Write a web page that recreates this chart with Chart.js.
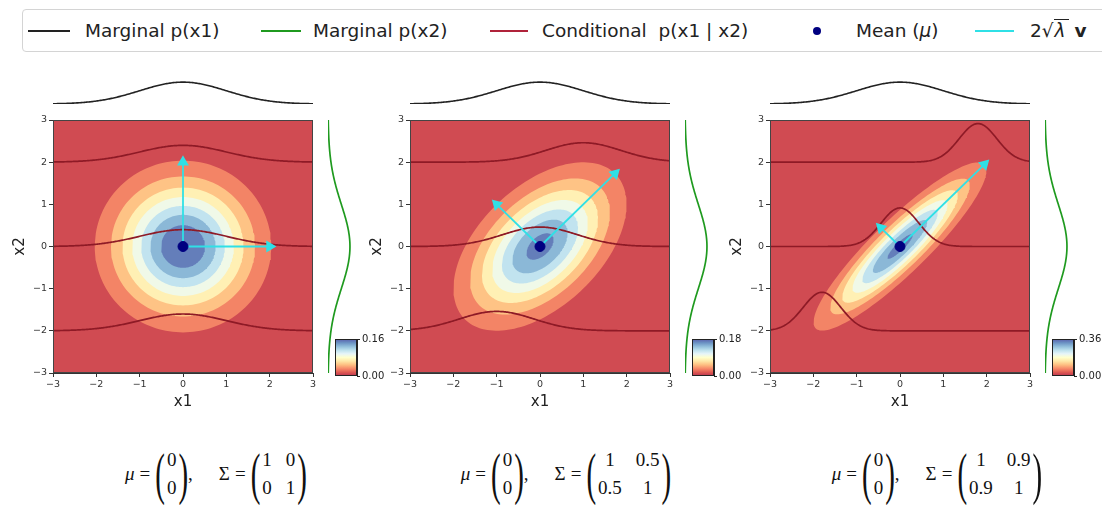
<!DOCTYPE html>
<html lang="en">
<head>
<meta charset="UTF-8">
<title>Bivariate Gaussian: marginals and conditionals</title>
<script src="https://cdn.jsdelivr.net/npm/chart.js"></script>
<style>
  html, body { margin: 0; padding: 0; background: #fff; }
  body { width: 1102px; height: 506px; position: relative; overflow: hidden; font-family: 'DejaVu Sans', sans-serif; }
  canvas { position: absolute; }
  .legend { position: absolute; left: 22px; top: 9px; width: 1100px; height: 43px; border: 1px solid #d4d4d4; border-radius: 4px; box-sizing: border-box; }
  .lg-line { position: absolute; top: 30px; height: 2px; }
  .lg-dot { position: absolute; top: 27px; width: 8px; height: 8px; border-radius: 50%; background: #000080; }
  .lg-text { position: absolute; top: 20px; font-size: 18.5px; line-height: 22px; color: #222; white-space: nowrap; }
  .sq { border-top: 1.5px solid #222; font-style: italic; padding: 0 3px 0 1px; }
  .eq { position: absolute; top: 446px; height: 56px; display: flex; align-items: center; transform: translateX(-50%);
        font-family: 'Liberation Serif', 'DejaVu Serif', serif; font-size: 19px; color: #111; white-space: nowrap; }
  .eq .it { font-style: italic; }
  .eq .op { margin: 0 5px; }
  .eq .par { display: inline-block; font-size: 29px; line-height: 29px; transform: scaleY(1.95); }
  .eq .mat { display: inline-grid; row-gap: 6px; justify-items: center; margin: 0 2px; }
  .eq .gap { width: 26px; }
</style>
</head>
<body>
<div class="legend"></div>
<div class="lg-line" style="left:28px;width:42px;background:#222"></div>
<div class="lg-text" style="left:85px">Marginal p(x1)</div>
<div class="lg-line" style="left:261px;width:40px;background:#1f9a1f"></div>
<div class="lg-text" style="left:313px">Marginal p(x2)</div>
<div class="lg-line" style="left:490px;width:38px;background:#b0233a"></div>
<div class="lg-text" style="left:542px">Conditional&nbsp; p(x1 | x2)</div>
<div class="lg-dot" style="left:813px"></div>
<div class="lg-text" style="left:856px">Mean (<i>μ</i>)</div>
<div class="lg-line" style="left:975px;width:39px;background:#2fe0e6"></div>
<div class="lg-text" style="left:1030px">2√<span class="sq">λ</span> <b>v</b></div>

<script>
// ---- values ----
const TICKS = [-3, -2, -1, 0, 1, 2, 3];
const MU1 = [0, 0, 0];
const MU2 = [0, 0, 0];
const S11 = [1, 1, 1];
const S12 = [0, 0.5, 0.9];
const S22 = [1, 1, 1];
const COND_AT = [-2, 0, 2];          // x2 values where p(x1 | x2) is drawn
const LEVELS = [
  [0, 0.02, 0.04, 0.06, 0.08, 0.10, 0.12, 0.14, 0.16],
  [0, 0.025, 0.05, 0.075, 0.10, 0.125, 0.15, 0.175, 0.20],
  [0, 0.05, 0.10, 0.15, 0.20, 0.25, 0.30, 0.35, 0.40]
];
const CBAR_TICKS = [[0, 0.16], [0, 0.18], [0, 0.36]];

// ---- layout ----
const PLOT_LEFT = [53, 410, 770];
const PLOT_TOP = 120, PLOT_W = 260, PLOT_H = 253;
const EQ_CENTER = [216, 566, 937];

const RDYLBU = ['#a50026','#d73027','#f46d43','#fdae61','#fee090','#ffffbf',
                '#e0f3f8','#abd9e9','#74add1','#4575b4','#313695'];
const COND_COLOR = '#8e1a26', ARROW_COLOR = '#2fe0e6', MEAN_COLOR = '#000080';

function hexRgb(h) { return [1, 3, 5].map(i => parseInt(h.substr(i, 2), 16)); }
function cmap(t, alpha = 0.8) {
  const s = Math.min(Math.max(t, 0), 1) * 10;
  const i = Math.min(Math.floor(s), 9), f = s - i;
  const a = hexRgb(RDYLBU[i]), b = hexRgb(RDYLBU[i + 1]);
  const c = a.map((v, k) => v + (b[k] - v) * f).map(v => Math.round(255 - (255 - v) * alpha));
  return `rgb(${c.join(',')})`;
}

function pdf(x, m, v) { return Math.exp(-(x - m) * (x - m) / (2 * v)) / Math.sqrt(2 * Math.PI * v); }

const GRID = [];
for (let i = 0; i <= 240; i++) GRID.push(-3 + i * 0.025);

function eigen(p) {
  const a = S11[p], b = S12[p], c = S22[p];
  const h = (a + c) / 2, r = Math.sqrt(((a - c) / 2) ** 2 + b * b);
  const l1 = h + r, l2 = h - r;
  let v1;
  if (Math.abs(b) < 1e-12) v1 = a >= c ? [1, 0] : [0, 1];
  else { const n = Math.hypot(l1 - c, b); v1 = [(l1 - c) / n, b / n]; }
  return { l1, l2, v1, v2: [-v1[1], v1[0]] };
}

// contour line of the density at a given level (an ellipse)
function ellipse(p, level) {
  const det = S11[p] * S22[p] - S12[p] * S12[p];
  const k = level * 2 * Math.PI * Math.sqrt(det);
  if (k >= 1) return null;
  const d = Math.sqrt(-2 * Math.log(k));
  const e = eigen(p), pts = [];
  for (let j = 0; j <= 160; j++) {
    const th = 2 * Math.PI * j / 160;
    const u = d * Math.sqrt(e.l1) * Math.cos(th), w = d * Math.sqrt(e.l2) * Math.sin(th);
    pts.push({ x: MU1[p] + u * e.v1[0] + w * e.v2[0], y: MU2[p] + u * e.v1[1] + w * e.v2[1] });
  }
  return pts;
}

const fmt = v => v < 0 ? '\u2212' + Math.abs(v) : String(v);

const frame = {
  id: 'frame',
  beforeDatasetsDraw(chart, args, opts) {
    if (!opts.fill) return;
    const { ctx, chartArea: a } = chart;
    ctx.save(); ctx.fillStyle = opts.fill; ctx.fillRect(a.left, a.top, a.width, a.height); ctx.restore();
  },
  afterDraw(chart, args, opts) {
    if (!opts.stroke) return;
    const { ctx, chartArea: a } = chart;
    ctx.save(); ctx.strokeStyle = opts.stroke; ctx.lineWidth = 1;
    ctx.strokeRect(Math.round(a.left) + 0.5, Math.round(a.top) + 0.5, Math.round(a.width) - 1, Math.round(a.height) - 1);
    ctx.restore();
  }
};

function makeCanvas(left, top, w, h) {
  const c = document.createElement('canvas');
  c.width = w; c.height = h;
  c.style.left = left + 'px'; c.style.top = top + 'px';
  c.style.width = w + 'px'; c.style.height = h + 'px';
  document.body.appendChild(c);
  return c;
}

const base = {
  responsive: false, animation: false, events: [],
  plugins: { legend: { display: false }, tooltip: { enabled: false } },
  elements: { point: { radius: 0 }, line: { tension: 0 } }
};

function axis(title, isY) {
  return {
    type: 'linear', min: -3, max: 3,
    afterBuildTicks: s => { s.ticks = TICKS.map(v => ({ value: v })); },
    afterFit: s => { if (isY) s.width = 45; else s.height = 40; },
    ticks: { font: { size: 9.5, family: 'DejaVu Sans' }, color: '#333', padding: 2, maxRotation: 0, callback: fmt },
    grid: { drawOnChartArea: false, tickLength: 4, color: '#333' },
    border: { color: '#333' },
    title: { display: true, text: title, color: '#222', font: { size: 15, family: 'DejaVu Sans' }, padding: { top: 3, bottom: 2 } }
  };
}

for (let p = 0; p < 3; p++) {
  const L = PLOT_LEFT[p];
  const levels = LEVELS[p], nb = levels.length - 1;
  const datasets = [];

  // filled contour bands
  for (let i = 1; i < levels.length; i++) {
    const pts = ellipse(p, levels[i]);
    if (!pts) continue;
    datasets.push({ data: pts, showLine: true, fill: 'shape', backgroundColor: cmap((i + 0.5) / nb),
                    borderWidth: 0, borderColor: 'transparent', order: 100 - i });
  }
  // conditional densities p(x1 | x2)
  COND_AT.forEach(x2 => {
    const m = MU1[p] + S12[p] / S22[p] * (x2 - MU2[p]);
    const v = S11[p] - S12[p] * S12[p] / S22[p];
    datasets.push({ data: GRID.map(x => ({ x, y: x2 + pdf(x, m, v) })), showLine: true,
                    borderColor: COND_COLOR, borderWidth: 1.7, order: 10 });
  });
  // eigenvector arrows 2*sqrt(lambda)*v
  const e = eigen(p);
  [[e.l1, e.v1], [e.l2, e.v2]].forEach(([lam, vec]) => {
    const dx = 2 * Math.sqrt(lam) * vec[0], dy = 2 * Math.sqrt(lam) * vec[1];
    const rot = 90 - Math.atan2(dy, dx) * 180 / Math.PI;
    datasets.push({ data: [{ x: MU1[p], y: MU2[p] }, { x: MU1[p] + dx, y: MU2[p] + dy }], showLine: true,
                    borderColor: ARROW_COLOR, borderWidth: 1.8, backgroundColor: ARROW_COLOR,
                    pointStyle: 'triangle', pointRadius: c => c.dataIndex === 1 ? 5 : 0,
                    rotation: c => c.dataIndex === 1 ? rot : 0, order: 5 });
  });
  // mean
  datasets.push({ data: [{ x: MU1[p], y: MU2[p] }], pointRadius: 5, backgroundColor: MEAN_COLOR,
                  borderColor: MEAN_COLOR, order: 1 });

  new Chart(makeCanvas(L - 45, PLOT_TOP - 10, 45 + PLOT_W + 8, 10 + PLOT_H + 40), {
    type: 'scatter',
    data: { datasets },
    options: Object.assign({}, base, {
      layout: { padding: { top: 10, right: 8, left: 0, bottom: 0 } },
      scales: { x: axis('x1', false), y: axis('x2', true) },
      plugins: Object.assign({}, base.plugins, { frame: { fill: cmap(0.5 / nb), stroke: '#444' } })
    }),
    plugins: [frame]
  });

  // top marginal p(x1)
  new Chart(makeCanvas(L, 70, PLOT_W, 34), {
    type: 'scatter',
    data: { datasets: [{ data: GRID.map(x => ({ x, y: pdf(x, MU1[p], S11[p]) })), showLine: true,
                         borderColor: '#222', borderWidth: 1.6 }] },
    options: Object.assign({}, base, {
      clip: false,
      scales: { x: { display: false, min: -3, max: 3 }, y: { display: false, min: 0, max: 0.62 } }
    })
  });

  // right marginal p(x2); a tiny tension avoids the x-rounding fast path (stair look)
  new Chart(makeCanvas(L + PLOT_W + 15, PLOT_TOP, 30, PLOT_H), {
    type: 'scatter',
    data: { datasets: [{ data: GRID.map(y => ({ x: pdf(y, MU2[p], S22[p]), y })), showLine: true,
                         borderColor: '#1f9a1f', borderWidth: 1.7, tension: 0.001 }] },
    options: Object.assign({}, base, {
      clip: false,
      scales: { x: { display: false, min: 0, max: 0.545 }, y: { display: false, min: -3, max: 3 } }
    })
  });

  // colorbar
  const tk = CBAR_TICKS[p];
  new Chart(makeCanvas(L + 282, 330, 56, 56), {
    type: 'bar',
    data: { labels: [''], datasets: [{
      data: [[tk[0], tk[1]]], borderWidth: 0, barPercentage: 1, categoryPercentage: 1,
      backgroundColor: c => {
        const a = c.chart.chartArea;
        if (!a) return cmap(0);
        const g = c.chart.ctx.createLinearGradient(0, a.bottom, 0, a.top);
        for (let i = 0; i <= 20; i++) g.addColorStop(i / 20, cmap(i / 20));
        return g;
      }
    }] },
    options: Object.assign({}, base, {
      layout: { padding: { top: 9, bottom: 10, left: 0, right: 0 } },
      scales: {
        x: { display: false },
        y: { position: 'right', min: tk[0], max: tk[1],
             afterBuildTicks: s => { s.ticks = tk.map(v => ({ value: v })); },
             afterFit: s => { s.width = 34; },
             ticks: { font: { size: 10, family: 'DejaVu Sans' }, color: '#222', padding: 2, callback: v => v.toFixed(2) },
             grid: { drawOnChartArea: false, tickLength: 3, color: '#222' },
             border: { color: '#222' } }
      },
      plugins: Object.assign({}, base.plugins, { frame: { stroke: '#222' } })
    }),
    plugins: [frame]
  });

  // parameter formula
  const par = ch => `<span class="par">${ch}</span>`;
  const mat = (cells, cols) => `<span class="mat" style="grid-template-columns:repeat(${cols}, auto);column-gap:${cols > 1 ? 14 : 0}px">` +
    cells.map(v => `<span>${v}</span>`).join('') + '</span>';
  const eq = document.createElement('div');
  eq.className = 'eq';
  eq.style.left = EQ_CENTER[p] + 'px';
  eq.innerHTML = `<span class="it">μ</span><span class="op">=</span>${par('(')}${mat([MU1[p], MU2[p]], 1)}${par(')')}` +
    `<span>,</span><span class="gap"></span><span>Σ</span><span class="op">=</span>` +
    `${par('(')}${mat([S11[p], S12[p], S12[p], S22[p]], 2)}${par(')')}`;
  document.body.appendChild(eq);
}
</script>
</body>
</html>
